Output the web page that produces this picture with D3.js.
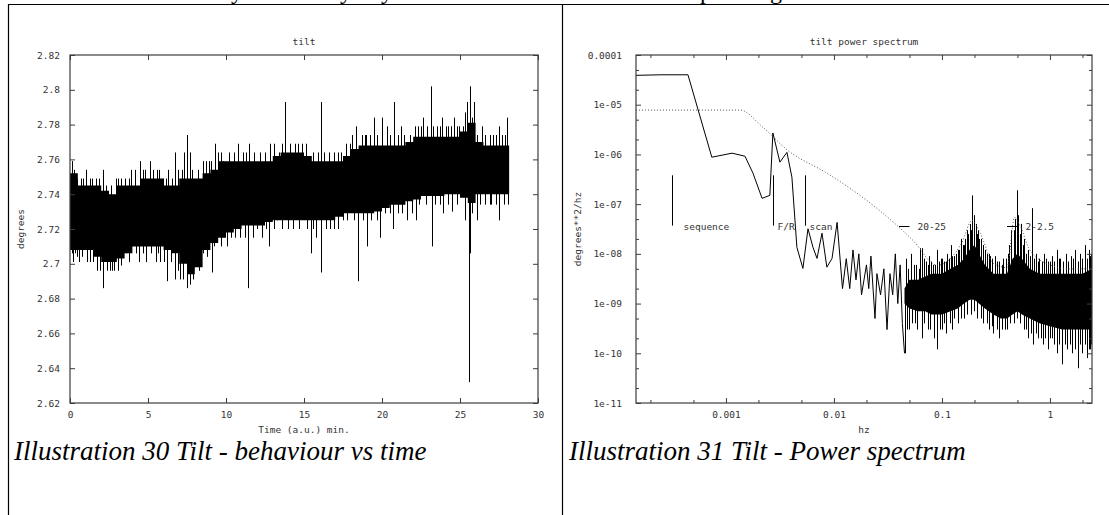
<!DOCTYPE html>
<html>
<head>
<meta charset="utf-8">
<script src="https://cdn.jsdelivr.net/npm/d3@7"></script>
<style>
  body { margin: 0; background: #fff; }
  svg { display: block; }
</style>
</head>
<body>
<svg width="1109" height="515"></svg>
<script>
// ---------- data: tilt vs time ----------
var tiltXTicks = [0, 5, 10, 15, 20, 25, 30];
var tiltXLabels = ["0", "5", "10", "15", "20", "25", "30"];
var tiltYTicks = [2.62, 2.64, 2.66, 2.68, 2.7, 2.72, 2.74, 2.76, 2.78, 2.8, 2.82];
var tiltYLabels = ["2.62", "2.64", "2.66", "2.68", "2.7", "2.72", "2.74", "2.76", "2.78", "2.8", "2.82"];

// dense core of the trace, every half minute
var tiltCoreT  = [0, 0.5, 1, 1.5, 2, 2.5, 3, 3.5, 4, 4.5, 5, 5.5, 6, 6.5, 7, 7.5, 8, 8.5, 9, 9.5,
                  10, 10.5, 11, 11.5, 12, 12.5, 13, 13.5, 14, 14.5, 15, 15.5, 16, 16.5, 17, 17.5, 18, 18.5, 19, 19.5,
                  20, 20.5, 21, 21.5, 22, 22.5, 23, 23.5, 24, 24.5, 25, 25.5, 26, 26.5, 27, 27.5, 28, 28.15];
var tiltCoreHi = [2.752, 2.745, 2.745, 2.745, 2.742, 2.740, 2.745, 2.745, 2.745, 2.749,
                  2.749, 2.749, 2.745, 2.745, 2.749, 2.749, 2.749, 2.752, 2.754, 2.759,
                  2.759, 2.759, 2.759, 2.759, 2.759, 2.759, 2.762, 2.764, 2.764, 2.764,
                  2.762, 2.759, 2.759, 2.759, 2.759, 2.762, 2.766, 2.768, 2.768, 2.768,
                  2.768, 2.768, 2.768, 2.770, 2.773, 2.773, 2.773, 2.773, 2.773, 2.773,
                  2.776, 2.781, 2.770, 2.768, 2.768, 2.768, 2.768, 2.768];
var tiltCoreLo = [2.708, 2.708, 2.708, 2.704, 2.701, 2.701, 2.703, 2.706, 2.710, 2.710,
                  2.710, 2.710, 2.708, 2.706, 2.700, 2.694, 2.698, 2.708, 2.712, 2.715,
                  2.718, 2.720, 2.722, 2.722, 2.722, 2.724, 2.725, 2.725, 2.725, 2.725,
                  2.725, 2.725, 2.725, 2.725, 2.727, 2.729, 2.729, 2.729, 2.729, 2.730,
                  2.732, 2.734, 2.734, 2.736, 2.737, 2.739, 2.739, 2.739, 2.740, 2.740,
                  2.738, 2.735, 2.740, 2.740, 2.740, 2.740, 2.740, 2.740];

// single excursions outside the core
var tiltSpikeT = [0.1, 0.7, 1.4, 2.1, 3.1, 3.9, 4.5, 4.8, 5.1, 5.7, 6.3, 6.75, 7.3, 7.52, 7.7, 8.5, 8.9, 9.3, 9.5, 9.8, 10.75, 11.1, 11.5, 12.2, 12.8, 13.4, 13.8, 14.1, 14.4, 15.1, 16.1, 16.3, 17.4, 17.95, 18.33, 18.7, 19.0, 19.5, 20.0, 20.3, 20.8, 21.2, 21.8, 22.1, 22.65, 22.9, 23.16, 23.5, 23.85, 24.25, 24.6, 24.95, 25.2, 25.47, 25.64, 25.9, 26.4, 27.1, 27.5, 28.0,
                  0.1, 0.3, 0.6, 1.1, 1.5, 1.7, 2.14, 2.55, 2.8, 3.1, 3.6, 4.4, 4.9, 5.5, 5.8, 6.2, 6.75, 7.05, 7.52, 7.9, 8.1, 8.55, 9.12, 9.4, 10.05, 10.9, 11.43, 12.0, 12.75, 13.25, 14.3, 15.43, 15.8, 16.1, 16.66, 17.5, 18.44, 19.04, 19.9, 20.7, 21.6, 22.2, 23.18, 23.9, 24.5, 25.55, 25.64, 26.1, 26.9, 27.52];
var tiltSpikeV = [2.759, 2.749, 2.749, 2.754, 2.749, 2.754, 2.759, 2.754, 2.759, 2.754, 2.754, 2.764, 2.764, 2.774, 2.764, 2.759, 2.759, 2.769, 2.764, 2.759, 2.769, 2.764, 2.769, 2.764, 2.769, 2.764, 2.793, 2.769, 2.769, 2.769, 2.793, 2.764, 2.764, 2.769, 2.779, 2.774, 2.774, 2.784, 2.784, 2.779, 2.793, 2.779, 2.774, 2.779, 2.784, 2.779, 2.802, 2.779, 2.784, 2.779, 2.784, 2.779, 2.779, 2.793, 2.802, 2.793, 2.779, 2.774, 2.779, 2.784,
                  2.706, 2.706, 2.701, 2.701, 2.701, 2.696, 2.686, 2.696, 2.696, 2.696, 2.706, 2.701, 2.701, 2.701, 2.701, 2.690, 2.691, 2.691, 2.686, 2.691, 2.701, 2.706, 2.695, 2.715, 2.710, 2.715, 2.686, 2.720, 2.710, 2.725, 2.720, 2.706, 2.715, 2.695, 2.720, 2.725, 2.690, 2.710, 2.715, 2.720, 2.725, 2.725, 2.710, 2.729, 2.730, 2.632, 2.706, 2.725, 2.734, 2.725];

// short hairlines one step beyond the core edges
var tiltFringeT = [0.25, 0.45, 0.85, 1.05, 1.25, 1.65, 1.85, 2.3, 2.65, 2.95, 3.3, 3.55, 3.75, 4.15, 4.65, 5.3, 5.55, 5.95, 6.15, 6.55, 6.95, 7.15, 7.85, 8.2, 8.7, 9.05, 9.65, 10.2, 10.5, 11.3, 11.8, 12.5, 13.1, 13.6, 14.6, 14.9, 15.6, 15.9, 16.6, 16.9, 17.2, 17.7, 18.1, 18.9, 19.2, 19.7, 20.5, 21.0, 21.4, 22.3, 22.5, 23.3, 23.7, 24.1, 24.4, 24.8, 25.35, 25.75, 26.1, 26.6, 26.9, 27.3, 27.7, 27.9,
                   0.2, 0.45, 0.8, 1.3, 1.9, 2.35, 2.7, 3.3, 3.8, 4.2, 4.7, 5.2, 5.65, 6.05, 6.45, 6.95, 7.25, 7.7, 8.3, 8.75, 9.25, 9.7, 10.3, 10.6, 11.2, 11.75, 12.3, 12.55, 13.1, 13.6, 14.0, 14.7, 15.2, 15.6, 16.4, 16.9, 17.2, 17.75, 18.2, 18.8, 19.3, 19.65, 20.2, 20.5, 21.0, 21.3, 21.9, 22.4, 22.8, 23.4, 23.7, 24.2, 24.8, 25.3, 25.8, 26.3, 26.6, 27.0, 27.3, 27.8, 28.05];
var tiltFringeV = [2.754, 2.749, 2.749, 2.754, 2.749, 2.749, 2.749, 2.745, 2.745, 2.749, 2.749, 2.749, 2.749, 2.754, 2.754, 2.754, 2.754, 2.749, 2.749, 2.749, 2.754, 2.754, 2.754, 2.754, 2.759, 2.759, 2.764, 2.764, 2.764, 2.764, 2.764, 2.764, 2.769, 2.769, 2.769, 2.769, 2.764, 2.764, 2.764, 2.764, 2.764, 2.769, 2.774, 2.774, 2.774, 2.774, 2.774, 2.774, 2.774, 2.779, 2.779, 2.779, 2.779, 2.779, 2.779, 2.779, 2.787, 2.784, 2.774, 2.774, 2.774, 2.774, 2.774, 2.774,
                   2.701, 2.704, 2.704, 2.701, 2.696, 2.696, 2.696, 2.699, 2.701, 2.706, 2.706, 2.706, 2.706, 2.701, 2.701, 2.696, 2.691, 2.688, 2.696, 2.704, 2.710, 2.710, 2.715, 2.715, 2.715, 2.715, 2.715, 2.720, 2.720, 2.720, 2.720, 2.720, 2.720, 2.720, 2.720, 2.720, 2.720, 2.725, 2.725, 2.725, 2.725, 2.725, 2.729, 2.729, 2.729, 2.729, 2.729, 2.734, 2.734, 2.734, 2.734, 2.734, 2.734, 2.725, 2.729, 2.734, 2.734, 2.734, 2.734, 2.734, 2.734];

// ---------- data: power spectrum ----------
var specXTicks = [0.001, 0.01, 0.1, 1];
var specXLabels = ["0.001", "0.01", "0.1", "1"];
var specXMinor = [2e-4, 5e-4, 2e-3, 5e-3, 2e-2, 5e-2, 0.2, 0.5, 2];
var specYTicks = [1e-11, 1e-10, 1e-9, 1e-8, 1e-7, 1e-6, 1e-5, 1e-4];
var specYLabels = ["1e-11", "1e-10", "1e-09", "1e-08", "1e-07", "1e-06", "1e-05", "0.0001"];
var specYMinor = [2e-11, 5e-11, 2e-10, 5e-10, 2e-9, 5e-9, 2e-8, 5e-8, 2e-7, 5e-7, 2e-6, 5e-6, 2e-5, 5e-5];

// low-frequency part of the raw spectrum (solid line)
var specLineF = [1.47e-4, 2.5e-4, 4.45e-4, 7.4e-4, 1.14e-3, 1.5e-3, 1.78e-3, 2.16e-3, 2.55e-3, 2.72e-3, 3.16e-3, 3.67e-3, 4.08e-3, 4.54e-3, 5.16e-3, 5.75e-3, 6.4e-3, 6.97e-3, 7.75e-3, 8.6e-3, 9.6e-3, 1.07e-2,
                 0.012, 0.013, 0.014, 0.015, 0.016, 0.017, 0.018, 0.020, 0.021, 0.022, 0.024, 0.025, 0.027, 0.029, 0.031, 0.033, 0.035, 0.037, 0.039, 0.041, 0.043, 0.045];
var specLineP = [3.9e-5, 4.0e-5, 4.0e-5, 8.8e-7, 1.06e-6, 9.2e-7, 4.2e-7, 1.31e-7, 1.5e-7, 2.7e-6, 7e-7, 1.1e-6, 3.5e-7, 1.35e-8, 5.1e-9, 3.2e-8, 1.35e-8, 8.1e-9, 2.6e-8, 5.4e-9, 8.1e-9, 4.3e-8,
                 2e-9, 8e-9, 2e-9, 1.2e-8, 3e-9, 1e-8, 1.5e-9, 6e-9, 2e-9, 9e-9, 5e-10, 4e-9, 1.5e-9, 5e-9, 3e-10, 4e-9, 1.5e-9, 1e-8, 1e-9, 6e-9, 4e-10, 1e-10];

// dense high-frequency band of the raw spectrum
var specNoiseF  = [0.045, 0.05, 0.06, 0.07, 0.08, 0.09, 0.1, 0.12, 0.14, 0.16, 0.18, 0.2, 0.22, 0.25, 0.3, 0.35, 0.4, 0.45, 0.5, 0.55, 0.65, 0.8, 1.0, 1.3, 1.6, 2.0, 2.45];
var specNoiseHi = [2e-9, 3e-9, 3e-9, 3.5e-9, 4e-9, 4e-9, 4e-9, 5e-9, 6e-9, 8e-9, 1.2e-8, 1.5e-8, 1e-8, 6e-9, 4e-9, 4e-9, 4e-9, 8e-9, 1e-8, 8e-9, 5e-9, 4e-9, 4e-9, 4e-9, 4e-9, 4e-9, 5e-9];
var specNoiseLo = [1e-9, 8e-10, 7e-10, 7e-10, 6e-10, 6e-10, 6e-10, 7e-10, 8e-10, 1e-9, 1.2e-9, 1.2e-9, 1e-9, 8e-10, 6e-10, 5e-10, 5e-10, 6e-10, 7e-10, 6e-10, 5e-10, 4e-10, 3.5e-10, 3e-10, 3e-10, 3e-10, 3e-10];

// hairlines reaching outside the band
var specSpikeF = [0.046, 0.052, 0.058, 0.063, 0.066, 0.071, 0.076, 0.083, 0.09, 0.097, 0.105, 0.112, 0.12, 0.13, 0.14, 0.15, 0.16, 0.17, 0.18, 0.19, 0.198, 0.205, 0.215, 0.23, 0.25, 0.27, 0.29, 0.31, 0.34, 0.37, 0.41, 0.44, 0.47, 0.49, 0.51, 0.54, 0.58, 0.62, 0.68, 0.74, 0.8, 0.88, 0.95, 1.05, 1.15, 1.25, 1.4, 1.55, 1.7, 1.9, 2.1, 2.3, 2.4,
                  0.045, 0.05, 0.056, 0.065, 0.075, 0.085, 0.09, 0.1, 0.11, 0.125, 0.14, 0.16, 0.185, 0.21, 0.24, 0.27, 0.3, 0.34, 0.38, 0.43, 0.5, 0.57, 0.63, 0.7, 0.78, 0.86, 0.95, 1.05, 1.15, 1.3, 1.45, 1.6, 1.8, 2.0, 2.2, 2.35,
                  0.048, 0.055, 0.061, 0.068, 0.074, 0.08, 0.087, 0.094, 0.1, 0.108, 0.116, 0.125, 0.135, 0.145, 0.155, 0.165, 0.175, 0.185, 0.21, 0.22, 0.24, 0.26, 0.28, 0.32, 0.36, 0.39, 0.42, 0.46, 0.5, 0.53, 0.56, 0.6, 0.65, 0.71, 0.77, 0.84, 0.91, 1.0, 1.1, 1.2, 1.33, 1.47, 1.62, 1.8, 2.0, 2.2, 2.35,
                  0.047, 0.053, 0.059, 0.068, 0.078, 0.095, 0.105, 0.118, 0.13, 0.15, 0.17, 0.2, 0.23, 0.26, 0.29, 0.32, 0.36, 0.4, 0.46, 0.53, 0.6, 0.67, 0.75, 0.82, 0.9, 1.0, 1.1, 1.2, 1.37, 1.52, 1.7, 1.9, 2.1, 2.28, 2.42];
var specSpikeP = [8e-9, 1e-8, 6e-9, 1.3e-8, 1.3e-8, 7e-9, 9e-9, 6e-9, 1.2e-8, 8e-9, 7e-9, 1e-8, 1.5e-8, 9e-9, 1.2e-8, 2e-8, 1.5e-8, 3e-8, 4e-8, 1.5e-7, 6e-8, 4e-8, 3e-8, 2e-8, 1.2e-8, 1e-8, 8e-9, 9e-9, 7e-9, 8e-9, 1e-8, 3e-8, 5e-8, 1.9e-7, 6e-8, 4e-8, 2e-8, 1.2e-8, 8.3e-8, 1e-8, 8e-9, 1e-8, 7e-9, 9e-9, 1.2e-8, 8e-9, 1e-8, 9e-9, 1.2e-8, 1e-8, 1.5e-8, 1.2e-8, 1e-8,
                  1e-10, 3e-10, 4e-10, 2e-10, 3e-10, 2e-10, 1.2e-10, 3e-10, 2.5e-10, 3e-10, 4e-10, 5e-10, 6e-10, 5e-10, 4e-10, 3e-10, 2.5e-10, 2e-10, 3e-10, 4e-10, 5e-10, 3e-10, 2e-10, 1.5e-10, 2e-10, 1.5e-10, 1.2e-10, 2e-10, 1e-10, 6e-11, 1.2e-10, 1e-10, 5e-11, 1e-10, 8e-11, 1.2e-10,
                  5e-9, 6e-9, 5e-9, 8e-9, 6e-9, 7e-9, 6e-9, 7e-9, 8e-9, 7e-9, 8e-9, 9e-9, 1e-8, 1.2e-8, 1.5e-8, 2e-8, 2.5e-8, 3e-8, 2.5e-8, 2e-8, 1.5e-8, 1e-8, 9e-9, 7e-9, 6e-9, 8e-9, 1.5e-8, 3e-8, 3e-8, 2.5e-8, 1.5e-8, 1e-8, 9e-9, 8e-9, 7e-9, 7e-9, 8e-9, 7e-9, 7e-9, 8e-9, 7e-9, 7e-9, 8e-9, 7e-9, 8e-9, 8e-9, 9e-9,
                  3e-10, 4e-10, 3e-10, 4e-10, 3e-10, 3e-10, 4e-10, 4e-10, 5e-10, 5e-10, 6e-10, 7e-10, 5e-10, 4e-10, 3.5e-10, 3e-10, 3e-10, 3e-10, 4e-10, 4e-10, 3e-10, 2.5e-10, 2.5e-10, 2e-10, 2e-10, 2e-10, 1.5e-10, 1.5e-10, 1.5e-10, 1.5e-10, 1.2e-10, 1.5e-10, 1.5e-10, 1.2e-10, 1.5e-10];

// smoothed spectrum (dotted)
var specSmoothF = [1.47e-4, 1.35e-3, 2.2e-3, 3.75e-3, 8.6e-3, 0.023, 0.054, 0.09, 0.12, 0.153, 0.19, 0.226, 0.30, 0.40, 0.47, 0.52, 0.65, 1.0, 1.5, 2.45];
var specSmoothP = [7.8e-6, 7.8e-6, 3.5e-6, 1.2e-6, 4.2e-7, 9.5e-8, 1.86e-8, 5.9e-9, 8e-9, 1.7e-8, 4.7e-8, 2.6e-8, 6.4e-9, 5.3e-9, 5.4e-8, 4e-8, 1.2e-8, 6e-9, 5e-9, 5e-9];

// annotations
var markerNames = ["sequence", "F/R", "scan"];
var markerF = [3.16e-4, 2.72e-3, 5.37e-3];
var markerLo = 3.7e-8, markerHi = 3.8e-7;
var bandNames = ["20-25", "2-2.5"];
var bandLoF = [0.04, 0.4];
var bandHiF = [0.05, 0.5];

// ---------- drawing ----------
var svg = d3.select("svg"),
    width = +svg.attr("width"),
    height = +svg.attr("height");

var mono = "'DejaVu Sans Mono', 'Liberation Mono', monospace",
    serif = "'Liberation Serif', 'DejaVu Serif', serif",
    axisInk = "#3c3c3c",
    textInk = "#333";

// page rules of the document table
svg.append("line").attr("x1", 8).attr("x2", width).attr("y1", 4.5).attr("y2", 4.5)
    .attr("stroke", "#000").attr("stroke-width", 1.2);
svg.append("line").attr("x1", 8.5).attr("x2", 8.5).attr("y1", 4).attr("y2", height)
    .attr("stroke", "#000").attr("stroke-width", 1.2);
svg.append("line").attr("x1", 562.5).attr("x2", 562.5).attr("y1", 4).attr("y2", height)
    .attr("stroke", "#000").attr("stroke-width", 1.2);

// descenders of the line of text above the table
[["y", 231], ["y", 340], ["y", 381], ["p", 700], ["g", 770]].forEach(function(c) {
    svg.append("text").attr("x", c[1]).attr("y", -1)
        .attr("font-family", serif).attr("font-size", 24).text(c[0]);
});

function frame(x, y, o) {
    var g = svg.append("g");
    var xr = x.range(), yr = y.range();
    var fmtX = function(d, i) { return o.xLabels[i]; },
        fmtY = function(d, i) { return o.yLabels[i]; };

    g.append("g").attr("transform", "translate(0," + yr[0] + ")")
        .call(d3.axisBottom(x).tickValues(o.xTicks).tickFormat(fmtX).tickSizeInner(-5).tickSizeOuter(0).tickPadding(8));
    g.append("g").attr("transform", "translate(0," + yr[1] + ")")
        .call(d3.axisTop(x).tickValues(o.xTicks).tickFormat("").tickSizeInner(-5).tickSizeOuter(0));
    g.append("g").attr("transform", "translate(" + xr[0] + ",0)")
        .call(d3.axisLeft(y).tickValues(o.yTicks).tickFormat(fmtY).tickSizeInner(-5).tickSizeOuter(0).tickPadding(o.yPad));
    g.append("g").attr("transform", "translate(" + xr[1] + ",0)")
        .call(d3.axisRight(y).tickValues(o.yTicks).tickFormat("").tickSizeInner(-5).tickSizeOuter(0));

    if (o.xMinor) {
        g.append("g").attr("transform", "translate(0," + yr[0] + ")")
            .call(d3.axisBottom(x).tickValues(o.xMinor).tickFormat("").tickSizeInner(-3).tickSizeOuter(0));
        g.append("g").attr("transform", "translate(0," + yr[1] + ")")
            .call(d3.axisTop(x).tickValues(o.xMinor).tickFormat("").tickSizeInner(-3).tickSizeOuter(0));
    }
    if (o.yMinor) {
        g.append("g").attr("transform", "translate(" + xr[0] + ",0)")
            .call(d3.axisLeft(y).tickValues(o.yMinor).tickFormat("").tickSizeInner(-3).tickSizeOuter(0));
        g.append("g").attr("transform", "translate(" + xr[1] + ",0)")
            .call(d3.axisRight(y).tickValues(o.yMinor).tickFormat("").tickSizeInner(-3).tickSizeOuter(0));
    }

    g.selectAll(".domain").remove();
    g.selectAll(".tick line").attr("stroke", axisInk);
    g.selectAll("text").attr("font-family", mono).attr("font-size", 9.5).attr("fill", textInk);

    g.append("rect")
        .attr("x", xr[0]).attr("y", yr[1])
        .attr("width", xr[1] - xr[0]).attr("height", yr[0] - yr[1])
        .attr("fill", "none").attr("stroke", axisInk).attr("stroke-width", 1.2);

    var cx = (xr[0] + xr[1]) / 2, cy = (yr[0] + yr[1]) / 2;
    svg.append("text").attr("x", cx).attr("y", 45).attr("text-anchor", "middle")
        .attr("font-family", mono).attr("font-size", 9.5).attr("fill", textInk).text(o.title);
    svg.append("text").attr("x", cx).attr("y", 433).attr("text-anchor", "middle")
        .attr("font-family", mono).attr("font-size", 9.5).attr("fill", textInk).text(o.xTitle);
    svg.append("text").attr("transform", "translate(" + o.yTitleX + "," + cy + ") rotate(-90)")
        .attr("text-anchor", "middle").attr("dy", "0.35em")
        .attr("font-family", mono).attr("font-size", 9.5).attr("fill", textInk).text(o.yTitle);
    svg.append("text").attr("x", o.capX).attr("y", 460)
        .attr("font-family", serif).attr("font-style", "italic").attr("font-size", 27)
        .attr("fill", "#000").text(o.caption);
}

// middle of the dense core, used as the foot of each hairline
function coreMid(t) {
    var i = Math.max(0, d3.bisectRight(tiltCoreT, t) - 1);
    return (tiltCoreLo[i] + tiltCoreHi[i]) / 2;
}
function bandMid(f) {
    var i = Math.min(specNoiseF.length - 1, Math.max(0, d3.bisectRight(specNoiseF, f) - 1));
    return Math.sqrt(specNoiseLo[i] * specNoiseHi[i]);
}

function hairlines(g, xs, vs, x, y, foot) {
    g.append("g").selectAll("line")
        .data(xs)
        .enter().append("line")
        .attr("x1", function(d) { return Math.round(x(d)) + 0.5; })
        .attr("x2", function(d) { return Math.round(x(d)) + 0.5; })
        .attr("y1", function(d) { return y(foot(d)); })
        .attr("y2", function(d, i) { return y(vs[i]); })
        .attr("stroke", "#000").attr("stroke-width", 1);
}

// ----- left: tilt vs time -----
var x1 = d3.scaleLinear().domain([0, 30]).range([70, 538]),
    y1 = d3.scaleLinear().domain([2.62, 2.82]).range([403, 55]);

var plot1 = svg.append("g");

plot1.append("path")
    .datum(tiltCoreT)
    .attr("fill", "#000")
    .attr("d", d3.area()
        .x(function(d) { return x1(d); })
        .y0(function(d, i) { return y1(tiltCoreLo[i]); })
        .y1(function(d, i) { return y1(tiltCoreHi[i]); })
        .curve(d3.curveStepAfter));

hairlines(plot1, tiltFringeT, tiltFringeV, x1, y1, coreMid);
hairlines(plot1, tiltSpikeT, tiltSpikeV, x1, y1, coreMid);

frame(x1, y1, {
    xTicks: tiltXTicks, xLabels: tiltXLabels,
    yTicks: tiltYTicks, yLabels: tiltYLabels, yPad: 10,
    title: "tilt", xTitle: "Time (a.u.) min.", yTitle: "degrees", yTitleX: 21,
    caption: "Illustration 30 Tilt - behaviour vs time", capX: 14
});

// ----- right: power spectrum -----
var x2 = d3.scaleLog().domain([1.47e-4, 2.45]).range([636, 1092]),
    y2 = d3.scaleLog().domain([1e-11, 1e-4]).range([403, 55]);

var plot2 = svg.append("g");

plot2.append("path")
    .datum(specNoiseF)
    .attr("fill", "#000")
    .attr("d", d3.area()
        .x(function(d) { return x2(d); })
        .y0(function(d, i) { return y2(specNoiseLo[i]); })
        .y1(function(d, i) { return y2(specNoiseHi[i]); }));

hairlines(plot2, specSpikeF, specSpikeP, x2, y2, bandMid);

plot2.append("path")
    .datum(specLineF)
    .attr("fill", "none").attr("stroke", "#000").attr("stroke-width", 1)
    .attr("d", d3.line()
        .x(function(d) { return x2(d); })
        .y(function(d, i) { return y2(specLineP[i]); }));

plot2.append("path")
    .datum(specSmoothF)
    .attr("fill", "none").attr("stroke", "#555").attr("stroke-width", 1)
    .attr("stroke-dasharray", "1,2")
    .attr("d", d3.line()
        .x(function(d) { return x2(d); })
        .y(function(d, i) { return y2(specSmoothP[i]); })
        .curve(d3.curveMonotoneX));

// markers and labels
var markerDx = [11, 4, 4];
markerF.forEach(function(f, i) {
    var px = Math.round(x2(f)) + 0.5;
    plot2.append("line").attr("x1", px).attr("x2", px)
        .attr("y1", y2(markerHi)).attr("y2", y2(markerLo))
        .attr("stroke", "#000");
    plot2.append("text").attr("x", px + markerDx[i]).attr("y", y2(markerLo) + 4)
        .attr("font-family", mono).attr("font-size", 9.5).attr("fill", textInk)
        .text(markerNames[i]);
});
bandNames.forEach(function(name, i) {
    var yy = Math.round(y2(markerLo)) + 0.5;
    plot2.append("line").attr("x1", x2(bandLoF[i])).attr("x2", x2(bandHiF[i]))
        .attr("y1", yy).attr("y2", yy).attr("stroke", "#000");
    plot2.append("text").attr("x", x2(bandHiF[i]) + 8).attr("y", y2(markerLo) + 4)
        .attr("font-family", mono).attr("font-size", 9.5).attr("fill", textInk)
        .text(name);
});

frame(x2, y2, {
    xTicks: specXTicks, xLabels: specXLabels, xMinor: specXMinor,
    yTicks: specYTicks, yLabels: specYLabels, yMinor: specYMinor, yPad: 14,
    title: "tilt power spectrum", xTitle: "hz", yTitle: "degrees**2/hz", yTitleX: 578,
    caption: "Illustration 31 Tilt - Power spectrum", capX: 569
});
</script>
</body>
</html>
